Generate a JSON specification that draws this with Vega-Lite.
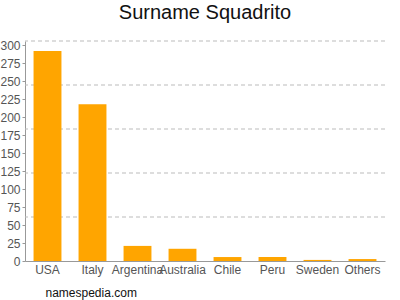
{
  "$schema": "https://vega.github.io/schema/vega-lite/v6.json",
  "autosize": "none",
  "width": 360,
  "height": 220,
  "padding": {"left": 25, "top": 41, "right": 15, "bottom": 39},
  "background": "white",
  "title": {
    "text": "Surname Squadrito",
    "fontSize": 20,
    "font": "Liberation Sans",
    "fontWeight": "normal",
    "color": "#111111",
    "anchor": "middle",
    "offset": 16
  },
  "config": {
    "view": {"stroke": null},
    "axis": {"labelFont": "Liberation Sans", "titleFont": "Liberation Sans"}
  },
  "datasets": {
    "bars": [
      {"country": "USA", "count": 292},
      {"country": "Italy", "count": 218},
      {"country": "Argentina", "count": 21},
      {"country": "Australia", "count": 17},
      {"country": "Chile", "count": 5.5},
      {"country": "Peru", "count": 5.5},
      {"country": "Sweden", "count": 1.5},
      {"country": "Others", "count": 2.7}
    ],
    "grid": [
      {"v": 61.2}, {"v": 122.4}, {"v": 183.6}, {"v": 244.8}, {"v": 306}
    ]
  },
  "layer": [
    {
      "data": {"name": "grid"},
      "mark": {"type": "rule", "stroke": "#bbbbbb", "strokeDash": [4, 3], "strokeWidth": 1},
      "encoding": {
        "y": {
          "field": "v", "type": "quantitative", "scale": {"domain": [0, 306], "nice": false},
          "axis": {
            "title": null, "values": [0,25,50,75,100,125,150,175,200,225,250,275,300],
            "grid": false, "labelFontSize": 12, "labelColor": "#555555",
            "tickSize": 3, "tickColor": "#999999", "domainColor": "#999999", "labelPadding": 2
          }
        }
      }
    },
    {
      "data": {"name": "bars"},
      "mark": {"type": "bar", "color": "#FFA500"},
      "encoding": {
        "x": {
          "field": "country", "type": "nominal", "sort": null,
          "scale": {"paddingInner": 0.38, "paddingOuter": 0.19},
          "axis": {
            "title": "namespedia.com",
            "titleX": 20, "titleY": 26, "titleAlign": "left", "titleAnchor": "start", "titleBaseline": "top",
            "titleFontSize": 12, "titleFontWeight": "normal", "titleColor": "#111111",
            "labelAngle": 0, "labelFontSize": 12, "labelColor": "#555555",
            "labelPadding": 3, "ticks": false, "domainColor": "#999999", "labelOverlap": false
          }
        },
        "y": {
          "field": "count", "type": "quantitative",
          "scale": {"domain": [0, 306], "nice": false},
          "axis": {
            "title": null, "values": [0,25,50,75,100,125,150,175,200,225,250,275,300],
            "grid": false, "labelFontSize": 12, "labelColor": "#555555",
            "tickSize": 3, "tickColor": "#999999", "domainColor": "#999999", "labelPadding": 2
          }
        }
      }
    }
  ]
}
